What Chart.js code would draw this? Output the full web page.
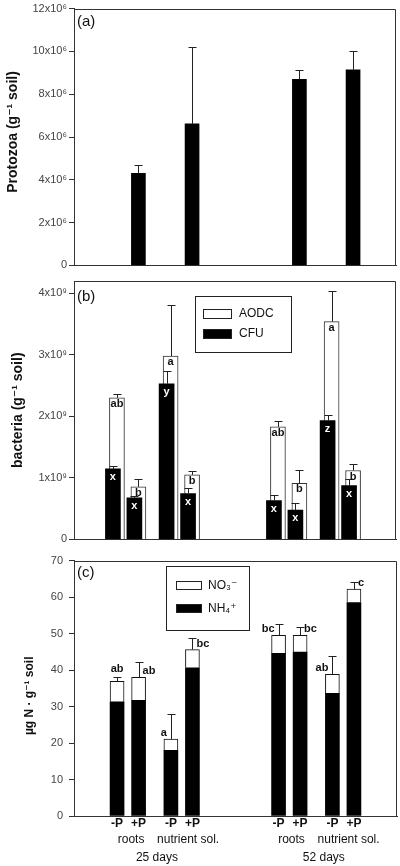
<!DOCTYPE html>
<html><head><meta charset="utf-8">
<script src="https://cdn.jsdelivr.net/npm/chart.js@4/dist/chart.umd.min.js"></script>
<style>
html,body{margin:0;padding:0;background:#fff;width:400px;height:866px;overflow:hidden}
canvas{position:absolute;left:0}
#ca{top:0}
#cb{top:268px}
#cc{top:548px}
</style></head><body>
<canvas id="ca" width="400" height="274"></canvas>
<canvas id="cb" width="400" height="280"></canvas>
<canvas id="cc" width="400" height="318"></canvas>
<script>
// ---------------- data ----------------
const treatments = ['-P','+P','-P','+P','-P','+P','-P','+P'];
const sources = ['roots','nutrient sol.','roots','nutrient sol.'];
const days = ['25 days','52 days'];
const panelLabels = ['(a)','(b)','(c)'];

const protozoa   = [null, 4.30e6, null, 6.61e6, null, 8.70e6, null, 9.14e6];
const protozoaSE = [null, 0.40e6, null, 3.60e6, null, 0.41e6, null, 0.87e6];
const protozoaTicks = ['0','2x10⁶','4x10⁶','6x10⁶','8x10⁶','10x10⁶','12x10⁶'];

const aodc    = [2.30e9, 0.854e9, 2.98e9, 1.05e9, 1.83e9, 0.91e9, 3.54e9, 1.12e9];
const aodcSE  = [0.06e9, 0.13e9, 0.83e9, 0.06e9, 0.09e9, 0.22e9, 0.50e9, 0.11e9];
const aodcLetters = ['ab','b','a','b','ab','b','a','b'];
const cfu     = [1.146e9, 0.675e9, 2.53e9, 0.745e9, 0.632e9, 0.475e9, 1.93e9, 0.875e9];
const cfuSE   = [0.054e9, 0.035e9, 0.21e9, 0.095e9, 0.088e9, 0.115e9, 0.09e9, 0.105e9];
const cfuLetters = ['x','x','y','x','x','x','z','x'];
const bacteriaTicks = ['0','1x10⁹','2x10⁹','3x10⁹','4x10⁹'];

const ammonium = [31.3, 31.7, 18.0, 40.6, 44.6, 44.9, 33.6, 58.5];
const nitrate  = [5.6, 6.3, 3.1, 5.0, 4.9, 4.6, 5.2, 3.7];
const totalNSE = [1.1, 4.1, 6.8, 3.3, 3.2, 2.3, 5.0, 2.0];
const nLetters = ['ab','ab','a','bc','bc','bc','ab','c'];
const nitrogenTicks = ['0','10','20','30','40','50','60','70'];

// ---------------- layout (not data) ----------------
const SLOT_COUNT = 31;
const BAR_SLOTS = [4, 6, 9, 11, 19, 21, 24, 26];
const SOURCE_SLOTS = [5.3, 10.6, 20.2, 25.5];
const DAY_SLOTS = [7.7, 23.2];
const N_LETTER_SIDE = ['c','r','l','r','l','r','l','r'];
const FAMILY = "'Liberation Sans', Arial, 'DejaVu Sans', sans-serif";
const AXIS = '#333';

const slotLabels = Array.from({length: SLOT_COUNT}, (_, i) => {
  const k = BAR_SLOTS.indexOf(i); return k >= 0 ? treatments[k] : '';
});
const toSlots = arr => Array.from({length: SLOT_COUNT}, (_, i) => {
  const k = BAR_SLOTS.indexOf(i); return k >= 0 ? arr[k] : null;
});

Chart.defaults.font.family = FAMILY;
Chart.defaults.color = '#222';

const decor = {
  id: 'decor',
  beforeDatasetDraw(chart, args, opts) {
    const sh = opts.shift && opts.shift[args.index];
    if (sh) { chart.ctx.save(); chart.ctx.translate(sh, 0); }
  },
  afterDatasetDraw(chart, args, opts) {
    const sh = opts.shift && opts.shift[args.index];
    if (sh) chart.ctx.restore();
  },
  afterDatasetsDraw(chart, args, opts) {
    const ctx = chart.ctx, ys = chart.scales.y;
    const errTop = (el, se) => ys.getPixelForValue(ys.getValueForPixel(el.y) + se);
    ctx.save();
    (opts.errors || []).forEach(spec => {
      const meta = chart.getDatasetMeta(spec.dataset);
      const sh = (opts.shift && opts.shift[spec.dataset]) || 0;
      spec.values.forEach((se, k) => {
        if (se == null) return;
        const el = meta.data[BAR_SLOTS[k]];
        const x = Math.round(el.x + sh) + 0.5;
        const ye = Math.round(errTop(el, se)) + 0.5;
        ctx.strokeStyle = '#222'; ctx.lineWidth = 1;
        ctx.beginPath();
        ctx.moveTo(x, el.y); ctx.lineTo(x, ye);
        ctx.moveTo(x - 4, ye); ctx.lineTo(x + 4, ye);
        ctx.stroke();
      });
    });
    (opts.letters || []).forEach(spec => {
      const meta = chart.getDatasetMeta(spec.dataset);
      const sh = (opts.shift && opts.shift[spec.dataset]) || 0;
      ctx.font = 'bold 11px ' + FAMILY;
      ctx.fillStyle = spec.color;
      ctx.textBaseline = 'middle';
      spec.texts.forEach((t, k) => {
        const el = meta.data[BAR_SLOTS[k]];
        let x = el.x + sh, y, align = 'center';
        if (spec.inside != null) {
          y = el.y + spec.inside;
        } else {
          const side = spec.sides[k];
          if (side === 'c') { y = errTop(el, spec.se[k]) - 8; }
          else { y = el.y - 6; align = side === 'r' ? 'left' : 'right'; x += side === 'r' ? 4 : -4; }
        }
        ctx.textAlign = align;
        ctx.fillText(t, x, y);
      });
    });
    ctx.restore();
  },
  afterDraw(chart, args, opts) {
    const {ctx, chartArea: a} = chart;
    ctx.save();
    // frame: top and right
    ctx.strokeStyle = AXIS; ctx.lineWidth = 1;
    const L = Math.round(a.left) + 0.5, T = Math.round(a.top) + 0.5, R = Math.round(a.right) - 0.5, B = Math.round(a.bottom);
    ctx.beginPath(); ctx.moveTo(L, T); ctx.lineTo(R, T); ctx.lineTo(R, B); ctx.stroke();
    // panel label
    ctx.fillStyle = '#111'; ctx.textBaseline = 'middle'; ctx.textAlign = 'left';
    ctx.font = '15px ' + FAMILY;
    ctx.fillText(opts.panel, a.left + 3, a.top + opts.panelDy);
    // y title
    ctx.save();
    ctx.translate(opts.titleX, (a.top + a.bottom) / 2 + opts.titleDy);
    ctx.rotate(-Math.PI / 2);
    ctx.textAlign = 'center'; ctx.font = 'bold ' + opts.titleSize + 'px ' + FAMILY;
    ctx.fillText(opts.title, 0, 0);
    ctx.restore();
    // legend
    if (opts.legend) {
      const lg = opts.legend, bx = a.left + lg.x, by = a.top + lg.y;
      ctx.strokeStyle = '#222'; ctx.lineWidth = 1;
      ctx.strokeRect(Math.round(bx) + 0.5, Math.round(by) + 0.5, lg.w, lg.h);
      ctx.font = '12px ' + FAMILY; ctx.textAlign = 'left'; ctx.textBaseline = 'middle';
      lg.items.forEach((di, r) => {
        const ds = chart.data.datasets[di];
        const cy = by + lg.rows[r];
        const sx = Math.round(bx + lg.sx), sy = Math.round(cy - lg.sh / 2);
        ctx.fillStyle = ds.backgroundColor;
        ctx.fillRect(sx, sy, lg.sw, lg.sh);
        ctx.strokeStyle = '#222';
        ctx.strokeRect(sx + 0.5, sy + 0.5, lg.sw - 1, lg.sh - 1);
        ctx.fillStyle = '#111';
        ctx.fillText(ds.label, bx + lg.tx, cy);
      });
    }
    // group labels under the x axis
    if (opts.groups) {
      const xs = chart.scales.x;
      ctx.font = '12px ' + FAMILY; ctx.fillStyle = '#111'; ctx.textAlign = 'center'; ctx.textBaseline = 'middle';
      opts.groups.forEach(g => {
        g.texts.forEach((t, i) => ctx.fillText(t, xs.getPixelForValue(g.slots[i]), a.bottom + g.dy));
      });
    }
    ctx.restore();
  }
};
Chart.register(decor);

function makeOptions(cfg) {
  return {
    animation: false, responsive: false, events: [],
    layout: {padding: {left: 0, right: cfg.padRight, top: cfg.padTop, bottom: cfg.padBottom}},
    plugins: {legend: {display: false}, tooltip: {enabled: false}, decor: cfg.decor},
    scales: {
      x: {
        type: 'category', offset: false, stacked: !!cfg.stacked,
        grid: {display: false, drawTicks: false},
        border: {display: true, color: AXIS, width: 1},
        ticks: {display: !!cfg.xTicks, autoSkip: false, maxRotation: 0, minRotation: 0, padding: 0,
                color: '#111', font: {size: 12, weight: 'bold'}},
        afterFit: s => { s.height = cfg.xHeight; }
      },
      y: {
        min: 0, max: cfg.yMax, bounds: 'data', stacked: !!cfg.stacked,
        grid: {display: true, drawOnChartArea: false, drawTicks: true, tickLength: 5, color: AXIS},
        border: {display: true, color: AXIS, width: 1},
        ticks: {padding: cfg.tickPad, color: '#444', font: {size: 11},
                callback: (v, i) => cfg.tickLabels[i]},
        afterBuildTicks: s => { s.ticks = cfg.tickLabels.map((_, i) => ({value: i * cfg.step})); },
        afterFit: s => { s.width = 74; }
      }
    }
  };
}

// (a) Protozoa
new Chart(document.getElementById('ca'), {
  type: 'bar',
  data: {labels: slotLabels, datasets: [
    {label: 'Protozoa', data: toSlots(protozoa), backgroundColor: '#000', barThickness: 14}
  ]},
  options: makeOptions({
    padRight: 4, padTop: 7, padBottom: 8, xHeight: 0, yMax: 12e6, step: 2e6, tickLabels: protozoaTicks, tickPad: 2,
    decor: {panel: panelLabels[0], panelDy: 13, title: 'Protozoa (g⁻¹ soil)', titleX: 13, titleDy: -5, titleSize: 14,
            errors: [{dataset: 0, values: protozoaSE}]}
  })
});

// (b) Bacteria
new Chart(document.getElementById('cb'), {
  type: 'bar',
  data: {labels: slotLabels, datasets: [
    {label: 'AODC', data: toSlots(aodc), backgroundColor: '#fff', borderColor: '#333', borderWidth: 1,
     barThickness: 15, grouped: false, order: 1},
    {label: 'CFU', data: toSlots(cfu), backgroundColor: '#000', barThickness: 15, grouped: false, order: 0}
  ]},
  options: makeOptions({
    padRight: 4, padTop: 13, padBottom: 8, xHeight: 0, yMax: 4.2e9, step: 1e9, tickLabels: bacteriaTicks, tickPad: 2,
    decor: {panel: panelLabels[1], panelDy: 16, title: 'bacteria (g⁻¹ soil)', titleX: 18, titleDy: 0, titleSize: 14,
            shift: {1: -4},
            errors: [{dataset: 0, values: aodcSE}, {dataset: 1, values: cfuSE}],
            letters: [{dataset: 0, texts: aodcLetters, inside: 6, color: '#111'},
                      {dataset: 1, texts: cfuLetters, inside: 8, color: '#fff'}],
            legend: {x: 121, y: 15, w: 96, h: 56, sw: 29, sh: 10, sx: 8, tx: 44, rows: [18, 38], items: [0, 1]}}
  })
});

// (c) Mineral N
new Chart(document.getElementById('cc'), {
  type: 'bar',
  data: {labels: slotLabels, datasets: [
    {label: 'NH₄⁺', data: toSlots(ammonium), backgroundColor: '#000', barThickness: 14},
    {label: 'NO₃⁻', data: toSlots(nitrate), backgroundColor: '#fff', borderColor: '#111', borderWidth: 1, barThickness: 14}
  ]},
  options: makeOptions({
    stacked: true, xTicks: true,
    padRight: 3, padTop: 10, padBottom: 0, xHeight: 50, yMax: 70, step: 10, tickLabels: nitrogenTicks, tickPad: 6,
    decor: {panel: panelLabels[2], panelDy: 12, title: 'µg N · g⁻¹ soil', titleX: 30, titleDy: 7.5, titleSize: 12,
            errors: [{dataset: 1, values: totalNSE}],
            letters: [{dataset: 1, texts: nLetters, sides: N_LETTER_SIDE, se: totalNSE, color: '#111'}],
            legend: {x: 92, y: 5, w: 83, h: 64, sw: 26, sh: 9, sx: 10, tx: 42, rows: [20, 43], items: [1, 0]},
            groups: [{texts: sources, slots: SOURCE_SLOTS, dy: 24}, {texts: days, slots: DAY_SLOTS, dy: 42}]}
  })
});
</script>
</body></html>
